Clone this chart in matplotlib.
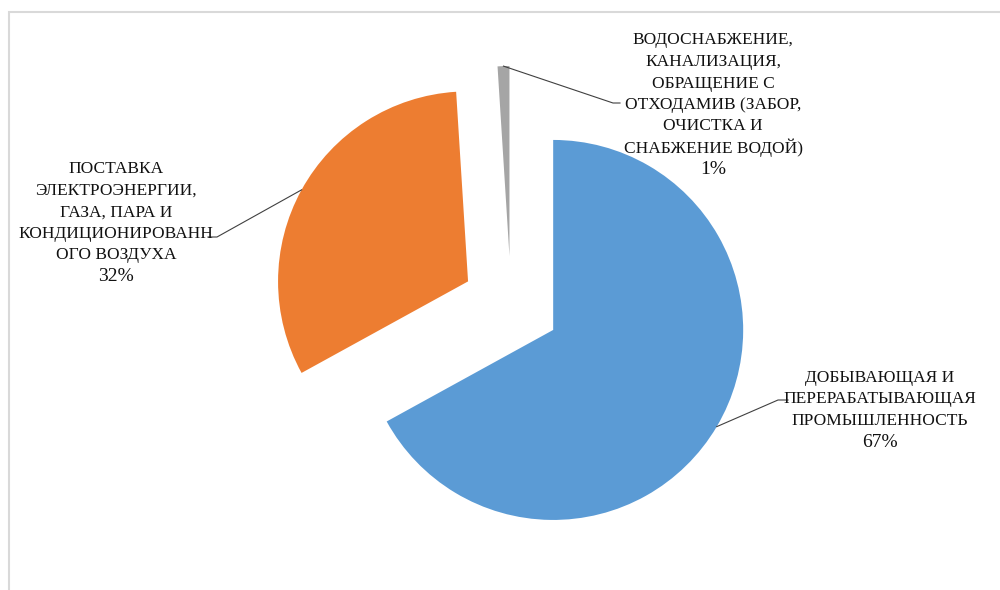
import numpy as np
import matplotlib.pyplot as plt
from matplotlib.patches import Rectangle

labels = [
    'ДОБЫВАЮЩАЯ И\nПЕРЕРАБАТЫВАЮЩАЯ\nПРОМЫШЛЕННОСТЬ\n67%',
    'ПОСТАВКА\nЭЛЕКТРОЭНЕРГИИ,\nГАЗА, ПАРА И\nКОНДИЦИОНИРОВАНН\nОГО ВОЗДУХА\n32%',
    'ВОДОСНАБЖЕНИЕ,\nКАНАЛИЗАЦИЯ,\nОБРАЩЕНИЕ С\nОТХОДАМИВ (ЗАБОР,\nОЧИСТКА И\nСНАБЖЕНИЕ ВОДОЙ)\n1%',
]
values = [67, 32, 1]
colors = ['#5B9BD5', '#ED7D31', '#A5A5A5']


def main():
    fig = plt.figure(figsize=(10, 5.9), dpi=100)
    ax = fig.add_axes([0, 0, 1, 1])

    # pie in pixel-like data units; explode is in data units here
    wedges, _ = ax.pie(values, colors=colors, startangle=90, counterclock=False,
                       center=(511, 285), radius=190, explode=[49] * 3,
                       wedgeprops={'linewidth': 0})
    ax.set_xlim(0, 1000)
    ax.set_ylim(0, 590)
    ax.set_aspect('equal')
    ax.axis('off')

    # label centre, leader elbow, leader end
    text_pos = [(880, 182), (116, 369), (713, 487)]
    elbows = [(778, 190), (217, 353), (613, 487)]
    ends = [(788, 190), (208, 353), (620, 487)]
    step = 21.5

    for w, lab, tp, el, en in zip(wedges, labels, text_pos, elbows, ends):
        mid = np.deg2rad((w.theta1 + w.theta2) / 2)
        cx, cy = w.center
        start = (cx + w.r * np.cos(mid), cy + w.r * np.sin(mid))
        ax.plot([start[0], el[0], en[0]], [start[1], el[1], en[1]],
                color='#404040', lw=0.8)
        lines = lab.split('\n')
        top = tp[1] + (len(lines) - 1) / 2 * step
        for i, line in enumerate(lines):
            size = 14 if line.endswith('%') else 12.5
            ax.text(tp[0], top - i * step, line, ha='center',
                    va='center_baseline', fontsize=size,
                    family='Liberation Serif', color='#111111')

    fig.add_artist(Rectangle((9 / 1000, -0.1), 1.2, (578 + 59) / 590,
                             transform=fig.transFigure, fill=False,
                             edgecolor='#D9D9D9', lw=1.5))
    fig.savefig('out.png', dpi=100)


if __name__ == '__main__':
    main()
